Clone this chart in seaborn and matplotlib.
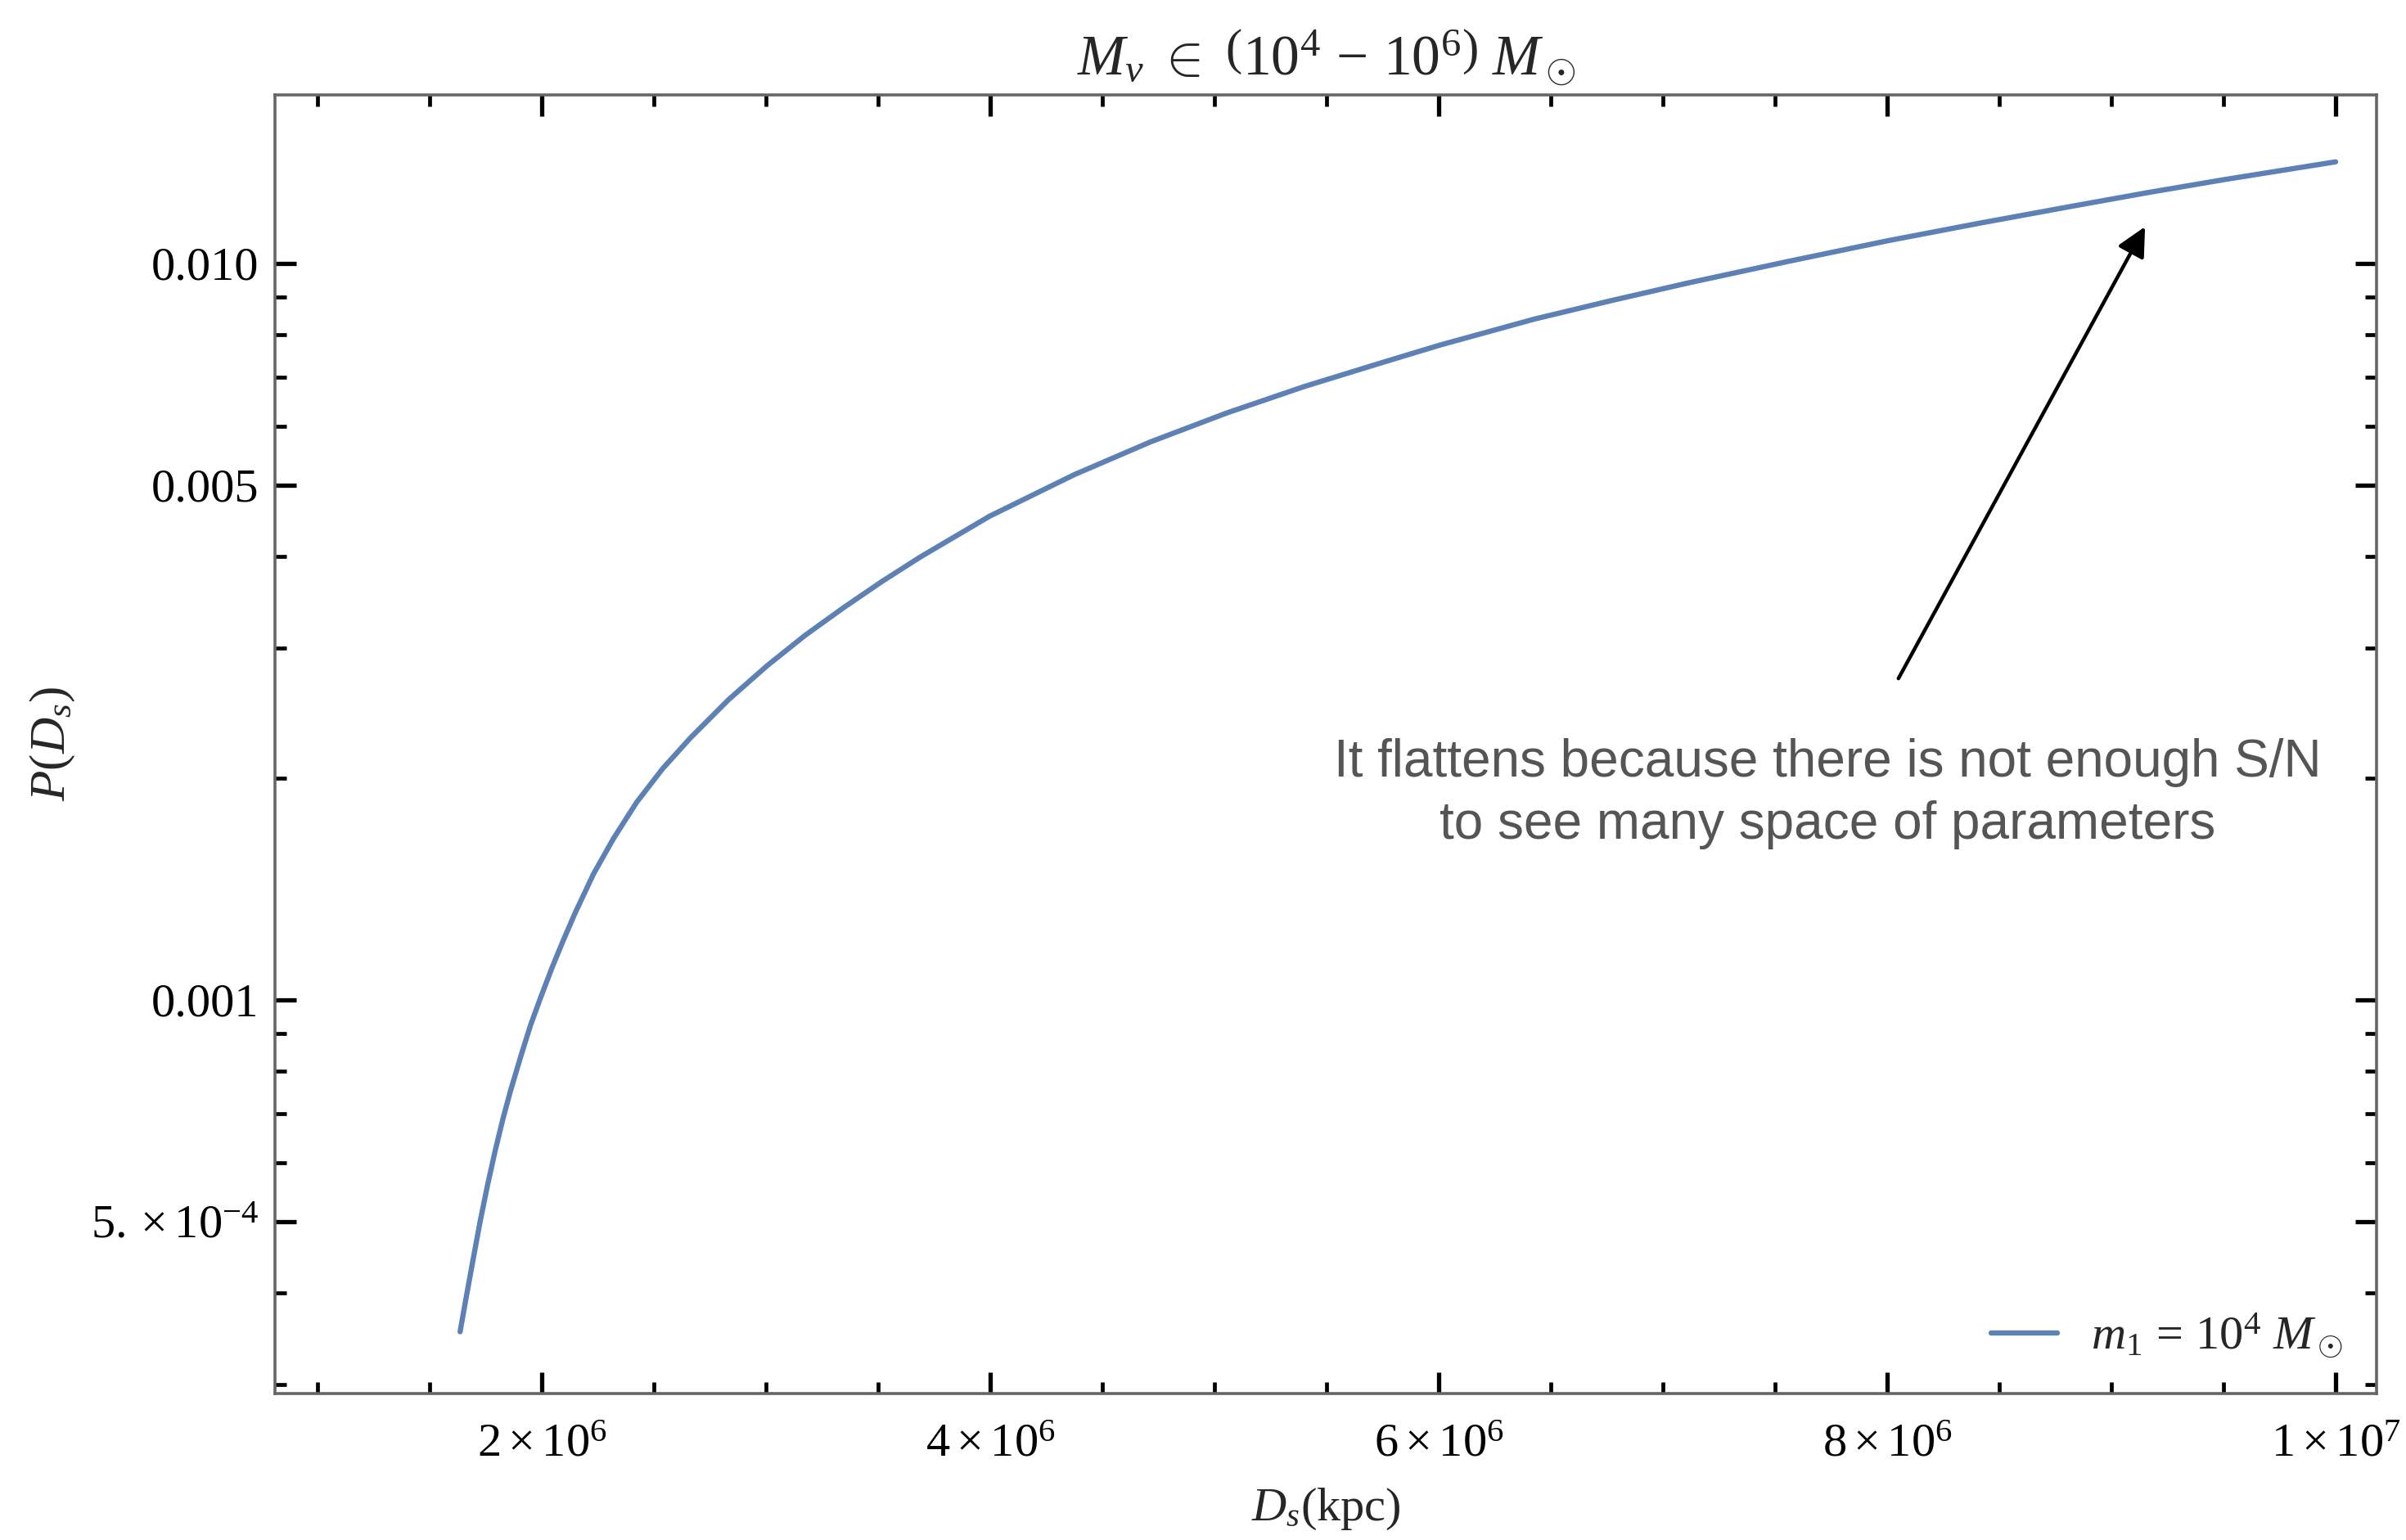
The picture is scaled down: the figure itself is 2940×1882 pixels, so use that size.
import numpy as np
import pandas as pd
import matplotlib
matplotlib.use("Agg")
import matplotlib.pyplot as plt
from matplotlib.ticker import FixedLocator, FixedFormatter, NullFormatter
import seaborn as sns

# Source distance D_s (kpc) and probability P(D_s) for m1 = 1e4 Msun
distance_kpc = [1.6345e6, 1.6619e6, 1.6893e6, 1.7235e6, 1.7577e6, 1.7919e6,
                1.8261e6, 1.8604e6, 1.9083e6, 1.9493e6, 1.9904e6, 2.0452e6,
                2.0931e6, 2.1478e6, 2.2300e6, 2.3190e6, 2.4216e6, 2.5380e6,
                2.6612e6, 2.8323e6, 3.0034e6, 3.1745e6, 3.3456e6, 3.5168e6,
                3.6879e6, 3.9959e6, 4.3723e6, 4.7146e6, 5.0568e6, 5.3990e6,
                5.7413e6, 6.0014e6, 6.4257e6, 6.7680e6, 7.1102e6, 7.5551e6,
                8.0000e6, 8.4107e6, 8.8214e6, 9.1636e6, 9.5059e6, 1.0e7]
probability = [3.541e-4, 3.945e-4, 4.384e-4, 4.991e-4, 5.614e-4, 6.252e-4,
               6.899e-4, 7.539e-4, 8.437e-4, 9.243e-4, 1.0005e-3, 1.1065e-3,
               1.2005e-3, 1.3118e-3, 1.4826e-3, 1.6558e-3, 1.8530e-3, 2.0594e-3,
               2.2662e-3, 2.5556e-3, 2.8403e-3, 3.1261e-3, 3.4077e-3, 3.6983e-3,
               3.9925e-3, 4.5336e-3, 5.1604e-3, 5.7213e-3, 6.2659e-3, 6.8002e-3,
               7.3213e-3, 7.7368e-3, 8.3975e-3, 8.8957e-3, 9.3998e-3, 1.0053e-2,
               1.0725e-2, 1.1333e-2, 1.1947e-2, 1.2474e-2, 1.2993e-2, 1.3731e-2]

series_label = r"$\mathit{m_1\,=\,10^4\ M_\odot}$"

x_major = [2e6, 4e6, 6e6, 8e6, 1e7]
x_major_labels = [r"$2\times10^{6}$", r"$4\times10^{6}$", r"$6\times10^{6}$",
                  r"$8\times10^{6}$", r"$1\times10^{7}$"]
y_major = [5e-4, 1e-3, 5e-3, 1e-2]
y_major_labels = [r"$5.\times10^{-4}$", "0.001", "0.005", "0.010"]

title_text = r"$M_v\ \in\ \left(10^4\,-\,10^6\right)\ M_\odot$"
xlabel_text = r"$D_s$(kpc)"
ylabel_text = r"$P(D_s)$"
note_text = "It flattens because there is not enough S/N\nto see many space of parameters"

sns.set_theme(style="ticks")
plt.rcParams["font.family"] = ["Liberation Serif", "DejaVu Serif"]
plt.rcParams["mathtext.fontset"] = "custom"
plt.rcParams["mathtext.rm"] = "Liberation Serif"
plt.rcParams["mathtext.it"] = "Liberation Serif:italic"
plt.rcParams["mathtext.bf"] = "Liberation Serif:bold"

line_color = "#5E81B5"
frame_color = "#666666"

df = pd.DataFrame({"D": distance_kpc, "P": probability})

fig = plt.figure(figsize=(14.7, 9.41), dpi=200)
ax = fig.add_axes([0.1143, 0.0951, 0.9878 - 0.1143, 0.9384 - 0.0951])

sns.lineplot(data=df, x="D", y="P", ax=ax, color=line_color, linewidth=2.3,
             estimator=None, sort=False, label=series_label)

ax.set_yscale("log")
ax.set_xlim(0.809e6, 1.0183e7)
ax.set_ylim(2.919e-4, 0.016929)

# ticks on all four sides, pointing inwards
ax.xaxis.set_major_locator(FixedLocator(x_major))
ax.xaxis.set_major_formatter(FixedFormatter(x_major_labels))
ax.xaxis.set_minor_locator(FixedLocator([1e6 + 0.5e6 * i for i in range(19)
                                         if (1e6 + 0.5e6 * i) not in x_major]))
ax.xaxis.set_minor_formatter(NullFormatter())

y_minor = [m * 10.0 ** e for e in (-4, -3, -2) for m in range(2, 10)]
y_minor = [v for v in y_minor if v not in y_major]
ax.yaxis.set_major_locator(FixedLocator(y_major))
ax.yaxis.set_major_formatter(FixedFormatter(y_major_labels))
ax.yaxis.set_minor_locator(FixedLocator(y_minor))
ax.yaxis.set_minor_formatter(NullFormatter())

ax.tick_params(which="both", direction="in", top=True, right=True,
               color="black", labelcolor="black")
ax.tick_params(which="major", length=9.5, width=1.9, labelsize=21)
ax.tick_params(axis="y", which="major", pad=7)
ax.tick_params(axis="x", which="major", pad=13)
ax.tick_params(which="minor", length=5, width=1.7)

for sp in ax.spines.values():
    sp.set_color(frame_color)
    sp.set_linewidth(1.3)

ax.set_title(title_text, fontsize=25, pad=9)
ax.set_xlabel(xlabel_text, fontsize=21, labelpad=9)
ax.set_ylabel(ylabel_text, fontsize=22, labelpad=6)

leg = ax.legend(loc="lower right", frameon=False, fontsize=21,
                handlelength=1.4, handletextpad=0.7,
                bbox_to_anchor=(1.0, 0.0), borderaxespad=0.3)

# annotation arrow and note
ax.annotate("", xy=(9.15e6, 0.01121), xytext=(8.05e6, 2.73e-3),
            arrowprops=dict(arrowstyle="-|>,head_length=0.9,head_width=0.45",
                            color="black", lw=1.6, shrinkA=0, shrinkB=0))
fig.text(2233 / 2940, 1 - 970 / 1882, note_text, ha="center", va="center",
         fontsize=23, color="#555555", family=["Liberation Sans", "DejaVu Sans"],
         linespacing=1.35)

fig.savefig("out.png", dpi=200)
